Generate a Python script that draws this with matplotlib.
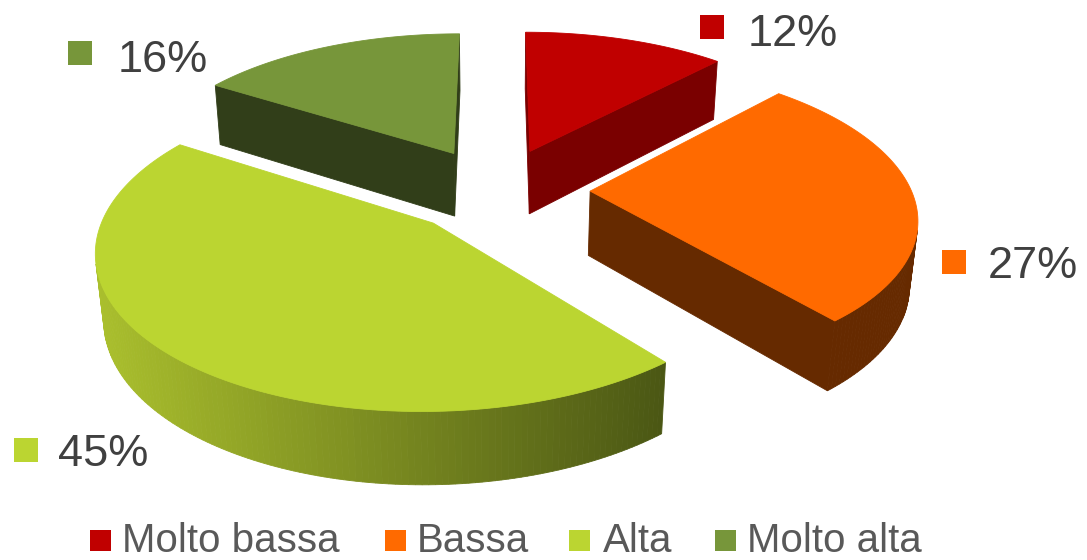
import numpy as np
import matplotlib
matplotlib.use('Agg')
import matplotlib.pyplot as plt
from matplotlib.patches import Polygon, Rectangle
from matplotlib.colors import to_rgb

# data
labels = ['Molto bassa', 'Bassa', 'Alta', 'Molto alta']
values = [12, 27, 45, 16]
pct_labels = ['12%', '27%', '45%', '16%']

# colours
top_colors = ['#C00000', '#FF6A00', '#BBD531', '#77963A']
side_light = ['#7A0000', '#662A00', '#AABF2D', '#313E19']
side_dark = ['#7A0000', '#662A00', '#4B5714', '#313E19']

# 3d view of the pie (radius 1)
EL = np.radians(29.5)
DIST = 5.8
FOC = 1825
X0, Y0 = 497, 254
H = 0.23
EXPLODE = 0.29

# layout of data labels (text left, baseline) and their squares (left, top)
lab_text = [(748, 45.5), (988, 278), (58, 466.5), (118, 71.5)]
lab_sq = [(700, 15), (942, 250), (14, 438), (68, 41)]
# legend layout
leg_sq_x = [90, 385, 569, 715]
leg_txt_x = [122, 417, 603, 747]

plt.rcParams['font.family'] = ['Liberation Sans', 'DejaVu Sans']

cam = np.array([0.0, DIST * np.cos(EL), DIST * np.sin(EL)])


def proj(u, v, w):
    z = v * np.cos(EL) + w * np.sin(EL)
    yup = w * np.cos(EL) - v * np.sin(EL)
    k = FOC / (DIST - z)
    return X0 + u * k, Y0 - yup * k


def visible(normal, pts):
    c = np.mean(pts, axis=0)
    return np.dot(normal, cam - c) > 0


def poly2d(pts):
    pts = np.asarray(pts)
    x, y = proj(pts[:, 0], pts[:, 1], pts[:, 2])
    return np.column_stack([x, y])


fig = plt.figure(figsize=(10.87, 5.6), dpi=100)
ax = fig.add_axes([0, 0, 1, 1])
ax.set_xlim(0, 1087)
ax.set_ylim(560, 0)
ax.axis('off')

frac = np.array(values, dtype=float) / sum(values)
ends = np.cumsum(frac) * 2 * np.pi
starts = ends - frac * 2 * np.pi
mids = (starts + ends) / 2
ou = EXPLODE * np.sin(mids)
ov = -EXPLODE * np.cos(mids)

# back slices first
depth = ov * np.cos(EL)
order = np.argsort(depth)

for i in order:
    s, e = starts[i], ends[i]
    n = max(int(np.degrees(e - s)) + 2, 12)
    th = np.linspace(s, e, n)
    u = ou[i] + np.sin(th)
    v = ov[i] - np.cos(th)
    apex_t = [ou[i], ov[i], H]
    apex_b = [ou[i], ov[i], 0]

    walls = []
    # radial walls
    w0 = [apex_t, [u[0], v[0], H], [u[0], v[0], 0], apex_b]
    if visible(np.array([-np.cos(s), -np.sin(s), 0]), w0):
        walls.append(w0)
    w1 = [apex_t, [u[-1], v[-1], H], [u[-1], v[-1], 0], apex_b]
    if visible(np.array([np.cos(e), np.sin(e), 0]), w1):
        walls.append(w1)
    # outer wall
    quads = []
    for j in range(n - 1):
        q = [[u[j], v[j], H], [u[j + 1], v[j + 1], H],
             [u[j + 1], v[j + 1], 0], [u[j], v[j], 0]]
        tm = (th[j] + th[j + 1]) / 2
        if visible(np.array([np.sin(tm), -np.cos(tm), 0]), q):
            quads.append(poly2d(q))
    if quads:
        xs = np.array([q[:, 0].mean() for q in quads])
        span = max(xs.max() - xs.min(), 1)
        cl, cd = np.array(to_rgb(side_light[i])), np.array(to_rgb(side_dark[i]))
        for q, xm in zip(quads, xs):
            t = (xm - xs.min()) / span
            col = cl * (1 - t) + cd * t
            ax.add_patch(Polygon(q, closed=True, facecolor=col, edgecolor=col,
                                 lw=0.6))
    for wpts in walls:
        ax.add_patch(Polygon(poly2d(wpts), closed=True, facecolor=side_dark[i],
                             edgecolor=side_dark[i], lw=0.6))
    # top face
    top = [apex_t] + [[a, b, H] for a, b in zip(u, v)]
    ax.add_patch(Polygon(poly2d(top), closed=True, facecolor=top_colors[i],
                         edgecolor=top_colors[i], lw=0.6))

# data labels
for i in range(len(values)):
    sx, sy = lab_sq[i]
    ax.add_patch(Rectangle((sx, sy), 24, 24, facecolor=top_colors[i], edgecolor='none'))
    tx, ty = lab_text[i]
    ax.text(tx, ty, pct_labels[i], fontsize=32.5, color='#404040',
            ha='left', va='baseline')

# legend
for i in range(len(labels)):
    ax.add_patch(Rectangle((leg_sq_x[i], 530), 21, 21, facecolor=top_colors[i],
                           edgecolor='none'))
    ax.text(leg_txt_x[i], 552, labels[i], fontsize=29, color='#595959',
            ha='left', va='baseline')

fig.savefig('out.png', dpi=100)
